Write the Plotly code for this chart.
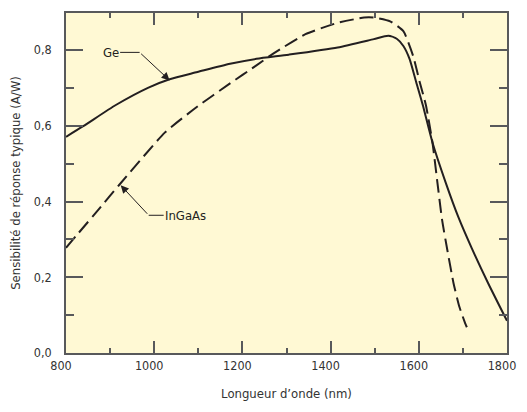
import plotly.graph_objects as go

# Longueur d'onde (nm) / sensibilité (A/W)
ge_nm = [800, 839, 913, 987, 1035, 1098, 1172, 1232, 1305, 1416, 1498, 1531,
         1550, 1565, 1579, 1594, 1609, 1631, 1661, 1690, 1720, 1757, 1800]
ge_aw = [0.571, 0.599, 0.655, 0.701, 0.723, 0.742, 0.764, 0.777, 0.788, 0.807, 0.829, 0.838,
         0.830, 0.811, 0.777, 0.716, 0.655, 0.556, 0.450, 0.358, 0.277, 0.185, 0.085]

ingaas_nm = [800, 876, 920, 1024, 1098, 1172, 1231, 1269, 1343, 1416, 1476, 1498, 1535,
             1565, 1587, 1602, 1616, 1631, 1642, 1653, 1665, 1679, 1692, 1705, 1709]
ingaas_aw = [0.278, 0.382, 0.443, 0.582, 0.651, 0.712, 0.759, 0.790, 0.842, 0.872, 0.886, 0.886, 0.876,
             0.850, 0.785, 0.716, 0.655, 0.556, 0.452, 0.350, 0.270, 0.183, 0.122, 0.079, 0.068]

FONT = "DejaVu Sans Condensed, Liberation Sans, sans-serif"
INK = "#231f20"
AXIS = "#58595b"
TXT = "#333333"

fig = go.Figure()
fig.add_trace(go.Scatter(x=ge_nm, y=ge_aw, mode="lines", name="Ge",
                         line=dict(color=INK, width=2, shape="spline", smoothing=0.6)))
fig.add_trace(go.Scatter(x=ingaas_nm, y=ingaas_aw, mode="lines", name="InGaAs",
                         line=dict(color=INK, width=2, dash="14px,6px", shape="spline", smoothing=0.5)))

# Ge: flèche + trait horizontal vers le libellé
fig.add_annotation(x=1035, y=0.720, text="", showarrow=True, arrowhead=2, arrowsize=1.6,
                   arrowwidth=1, arrowcolor=INK, ax=-30, ay=-28, standoff=0)
fig.add_annotation(x=1035, y=0.720, xshift=-30, yshift=28, text="Ge", showarrow=True,
                   arrowhead=0, arrowwidth=1, arrowcolor=INK, ax=-29, ay=0,
                   font=dict(family=FONT, size=13, color=INK))

# InGaAs
fig.add_annotation(x=924, y=0.443, text="", showarrow=True, arrowhead=2, arrowsize=1.6,
                   arrowwidth=1, arrowcolor=INK, ax=28, ay=30, standoff=0)
fig.add_annotation(x=924, y=0.443, xshift=28, yshift=-30, text="InGaAs", showarrow=True,
                   arrowhead=0, arrowwidth=1, arrowcolor=INK, ax=37, ay=0,
                   font=dict(family=FONT, size=13, color=INK))

fig.update_xaxes(range=[800, 1800], dtick=200, tick0=800,
                 ticks="inside", ticklen=12, tickwidth=1.5, tickcolor=AXIS,
                 minor=dict(ticks="inside", ticklen=5, dtick=100, tickwidth=1.5, tickcolor=AXIS),
                 showline=True, linecolor=AXIS, linewidth=1.5, mirror="ticks",
                 showgrid=False, zeroline=False, ticklabelshift=-5, ticklabeloverflow="allow",
                 title=dict(text="Longueur d’onde (nm)", standoff=17,
                            font=dict(family=FONT, size=13, color=TXT)),
                 tickfont=dict(family=FONT, size=12.5, color=TXT))
fig.update_yaxes(range=[0, 0.898], dtick=0.2, tick0=0, tickformat=".1f",
                 ticks="inside", ticklen=17, tickwidth=1.5, tickcolor=AXIS,
                 minor=dict(ticks="inside", ticklen=8, dtick=0.1, tickwidth=1.5, tickcolor=AXIS),
                 showline=True, linecolor=AXIS, linewidth=1.5, mirror="ticks",
                 showgrid=False, zeroline=False, ticklabelstandoff=10,
                 title=dict(text="Sensibilité de réponse typique (A/W)", standoff=12,
                            font=dict(family=FONT, size=13, color=TXT)),
                 tickfont=dict(family=FONT, size=12.5, color=TXT))

# la page ajoute 8 px de marge autour du graphique (pas de barre de défilement)
fig.update_layout(width=511, height=394, separators=", ",
                  margin=dict(l=58, r=3, t=4, b=45),
                  paper_bgcolor="white", plot_bgcolor="#fff9d4",
                  showlegend=False, font=dict(family=FONT))

fig.write_html("out.html")
